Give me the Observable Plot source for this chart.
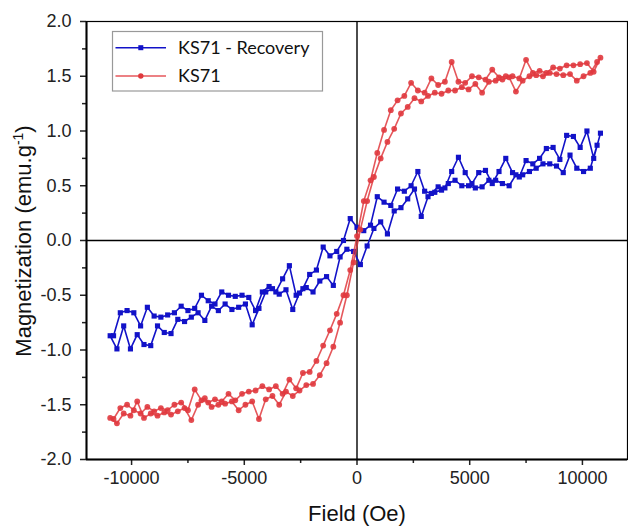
<!DOCTYPE html>
<html>
<head>
<meta charset="utf-8">
<script src="https://cdn.jsdelivr.net/npm/d3@7"></script>
<script src="https://cdn.jsdelivr.net/npm/@observablehq/plot@0.6"></script>
<style>
  html, body { margin: 0; padding: 0; background: #fff; }
  #chart svg { display: block; }
</style>
</head>
<body>
<div id="chart"></div>
<script>
// Applied field (Oe) of the descending branch (from +H down to -H)
const fieldDesc = [-10800,-10500,-10200,-9900,-9600,-9300,-9000,-8700,-8400,-8100,-7800,-7500,-7200,-6900,-6600,-6300,-6000,-5700,-5400,-5100,-4800,-4500,-4200,-3900,-3600,-3300,-3000,-2700,-2400,-2100,-1800,-1500,-1200,-900,-600,-300,0,300,600,900,1200,1500,1800,2100,2400,2700,3000,3300,3600,3900,4200,4500,4800,5100,5400,5700,6000,6300,6600,6900,7200,7500,7800,8100,8400,8700,9000,9300,9600,9900,10200,10500,10800];
// Applied field (Oe) of the ascending branch (from -H up to +H)
const fieldAsc = [-10950,-10650,-10350,-10050,-9750,-9450,-9150,-8850,-8550,-8250,-7950,-7650,-7350,-7050,-6750,-6450,-6150,-5850,-5550,-5250,-4950,-4650,-4350,-4050,-3750,-3450,-3150,-2850,-2550,-2250,-1950,-1650,-1350,-1050,-750,-450,-150,150,450,750,1050,1350,1650,1950,2250,2550,2850,3150,3450,3750,4050,4350,4650,4950,5250,5550,5850,6150,6450,6750,7050,7350,7650,7950,8250,8550,8850,9150,9450,9750,10050,10350,10650];

// KS71: descending (upper) and ascending (lower) branches, emu/g
const ks71Desc = [-1.63,-1.53,-1.50,-1.55,-1.58,-1.52,-1.56,-1.53,-1.55,-1.50,-1.48,-1.55,-1.36,-1.46,-1.48,-1.45,-1.47,-1.40,-1.46,-1.40,-1.38,-1.37,-1.33,-1.36,-1.33,-1.40,-1.27,-1.35,-1.21,-1.20,-1.10,-0.96,-0.82,-0.67,-0.50,-0.27,0.04,0.36,0.55,0.80,1.01,1.19,1.28,1.32,1.44,1.37,1.35,1.48,1.42,1.45,1.63,1.45,1.44,1.50,1.49,1.47,1.56,1.49,1.50,1.50,1.48,1.65,1.53,1.55,1.53,1.58,1.57,1.60,1.60,1.61,1.62,1.54,1.67];
const ks71Asc = [-1.62,-1.67,-1.58,-1.60,-1.47,-1.62,-1.58,-1.60,-1.57,-1.59,-1.56,-1.53,-1.64,-1.50,-1.44,-1.52,-1.50,-1.49,-1.47,-1.55,-1.50,-1.47,-1.63,-1.45,-1.42,-1.50,-1.38,-1.42,-1.37,-1.32,-1.31,-1.23,-1.12,-0.97,-0.75,-0.50,-0.20,0.10,0.36,0.58,0.75,0.90,1.02,1.16,1.22,1.30,1.27,1.32,1.35,1.34,1.37,1.37,1.40,1.38,1.43,1.35,1.45,1.46,1.47,1.49,1.36,1.46,1.50,1.51,1.50,1.53,1.52,1.51,1.52,1.46,1.50,1.53,1.63];

// KS71 - Recovery: descending and ascending branches, emu/g
const recDesc = [-0.87,-0.66,-0.64,-0.66,-0.78,-0.61,-0.69,-0.70,-0.68,-0.66,-0.60,-0.64,-0.62,-0.50,-0.55,-0.58,-0.47,-0.50,-0.51,-0.50,-0.52,-0.64,-0.47,-0.42,-0.47,-0.35,-0.23,-0.50,-0.44,-0.31,-0.27,-0.06,-0.14,-0.10,0.00,0.20,0.12,0.09,0.14,0.40,0.35,0.32,0.47,0.45,0.50,0.63,0.45,0.43,0.49,0.48,0.63,0.76,0.62,0.52,0.62,0.64,0.52,0.63,0.75,0.62,0.58,0.73,0.70,0.75,0.84,0.85,0.74,0.96,0.95,0.85,1.00,0.75,0.98];
const recAsc = [-0.87,-0.99,-0.78,-0.99,-0.86,-0.95,-0.96,-0.78,-0.84,-0.85,-0.72,-0.74,-0.70,-0.66,-0.73,-0.60,-0.64,-0.58,-0.63,-0.61,-0.58,-0.77,-0.62,-0.47,-0.44,-0.49,-0.45,-0.63,-0.48,-0.43,-0.47,-0.37,-0.33,-0.41,-0.15,-0.08,-0.10,-0.22,-0.05,0.11,0.17,0.06,0.27,0.30,0.38,0.47,0.22,0.40,0.44,0.46,0.52,0.55,0.50,0.50,0.48,0.49,0.55,0.55,0.52,0.50,0.60,0.60,0.63,0.66,0.70,0.70,0.68,0.62,0.78,0.66,0.63,0.66,0.87];

const seriesNames = ["KS71 - Recovery", "KS71"];
const seriesColors = ["#1212c8", "#e0393e"];
const xTicks = [-10000, -5000, 0, 5000, 10000];
const xMinor = [-7500, -2500, 2500, 7500];
const yTicks = [-2.0, -1.5, -1.0, -0.5, 0.0, 0.5, 1.0, 1.5, 2.0];
const yMinor = [-1.75, -1.25, -0.75, -0.25, 0.25, 0.75, 1.25, 1.75];

function loop(name, desc, asc) {
  const rows = [];
  for (let i = fieldDesc.length - 1; i >= 0; i--) rows.push({H: fieldDesc[i], M: desc[i], s: name});
  for (let i = 0; i < fieldAsc.length; i++) rows.push({H: fieldAsc[i], M: asc[i], s: name});
  return rows;
}
const recData = loop(seriesNames[0], recDesc, recAsc);
const ksData = loop(seriesNames[1], ks71Desc, ks71Asc);

const chart = Plot.plot({
  width: 628,
  height: 526,
  marginLeft: 86,
  marginRight: 1,
  marginTop: 21,
  marginBottom: 67,
  style: {fontFamily: "'Liberation Sans', Arial, sans-serif", fontSize: "18px", color: "#222", background: "#fff"},
  x: {domain: [-12000, 12000]},
  y: {domain: [-2, 2]},
  marks: [
    Plot.frame({stroke: "#000", strokeWidth: 1.2}),
    Plot.ruleX([0], {stroke: "#000", strokeWidth: 1.4}),
    Plot.ruleY([0], {stroke: "#000", strokeWidth: 1.4}),
    Plot.axisX({ticks: xTicks, tickSize: 6, tickPadding: 6, tickFormat: d => String(d), strokeWidth: 1.5, label: null, fill: "#222"}),
    Plot.axisX({ticks: xMinor, tickSize: 4, text: null, strokeWidth: 1.5, label: null}),
    Plot.axisY({ticks: yTicks, tickSize: 6, tickPadding: 9, tickFormat: d => d.toFixed(1), strokeWidth: 1.5, label: null, fill: "#222"}),
    Plot.axisY({ticks: yMinor, tickSize: 4, text: null, strokeWidth: 1.5, label: null}),
    Plot.ruleX([-12000], {stroke: "#000", strokeWidth: 2}),
    Plot.ruleY([-2], {stroke: "#000", strokeWidth: 2}),
    Plot.line(recData, {x: "H", y: "M", stroke: seriesColors[0], strokeWidth: 1.6}),
    Plot.dot(recData, {x: "H", y: "M", symbol: "square", r: 2.9, fill: seriesColors[0], stroke: "none"}),
    Plot.line(ksData, {x: "H", y: "M", stroke: seriesColors[1], strokeWidth: 1.6, strokeOpacity: 0.85}),
    Plot.dot(ksData, {x: "H", y: "M", symbol: "circle", r: 2.9, fill: seriesColors[1], stroke: "none", fillOpacity: 0.9})
  ]
});

const svg = d3.select(chart);
// Axis titles
svg.append("text")
  .attr("x", 357).attr("y", 521)
  .attr("text-anchor", "middle")
  .style("font-size", "22px").attr("fill", "#111")
  .text("Field (Oe)");
const yt = svg.append("text")
  .attr("transform", "translate(31,241) rotate(-90)")
  .attr("text-anchor", "middle")
  .style("font-size", "22px").attr("fill", "#111");
yt.append("tspan").text("Magnetization (emu.g");
yt.append("tspan").attr("dy", -8).style("font-size", "14px").text("-1");
yt.append("tspan").attr("dy", 8).text(")");

// Legend
const lg = svg.append("g").style("font-family", "Lato, 'Open Sans', sans-serif");
lg.append("rect").attr("x", 112.5).attr("y", 31.5).attr("width", 210).attr("height", 59.5)
  .attr("fill", "#fff").attr("stroke", "#999").attr("stroke-width", 1.2);
const legendY = [47.7, 76];
seriesNames.forEach((name, i) => {
  const y = legendY[i];
  lg.append("line").attr("x1", 115.5).attr("x2", 166).attr("y1", y).attr("y2", y)
    .attr("stroke", seriesColors[i]).attr("stroke-width", 1.6).attr("stroke-opacity", i ? 0.85 : 1);
  if (i === 0) {
    lg.append("rect").attr("x", 138.3).attr("y", y - 2.5).attr("width", 5).attr("height", 5).attr("fill", seriesColors[i]);
  } else {
    lg.append("circle").attr("cx", 140.8).attr("cy", y).attr("r", 2.7).attr("fill", seriesColors[i]);
  }
  lg.append("text").attr("x", 178).attr("y", y).attr("dy", "0.36em")
    .attr("text-anchor", "start")
    .style("font-size", "18px").attr("fill", "#111").text(name);
});

document.getElementById("chart").appendChild(chart);
</script>
</body>
</html>
